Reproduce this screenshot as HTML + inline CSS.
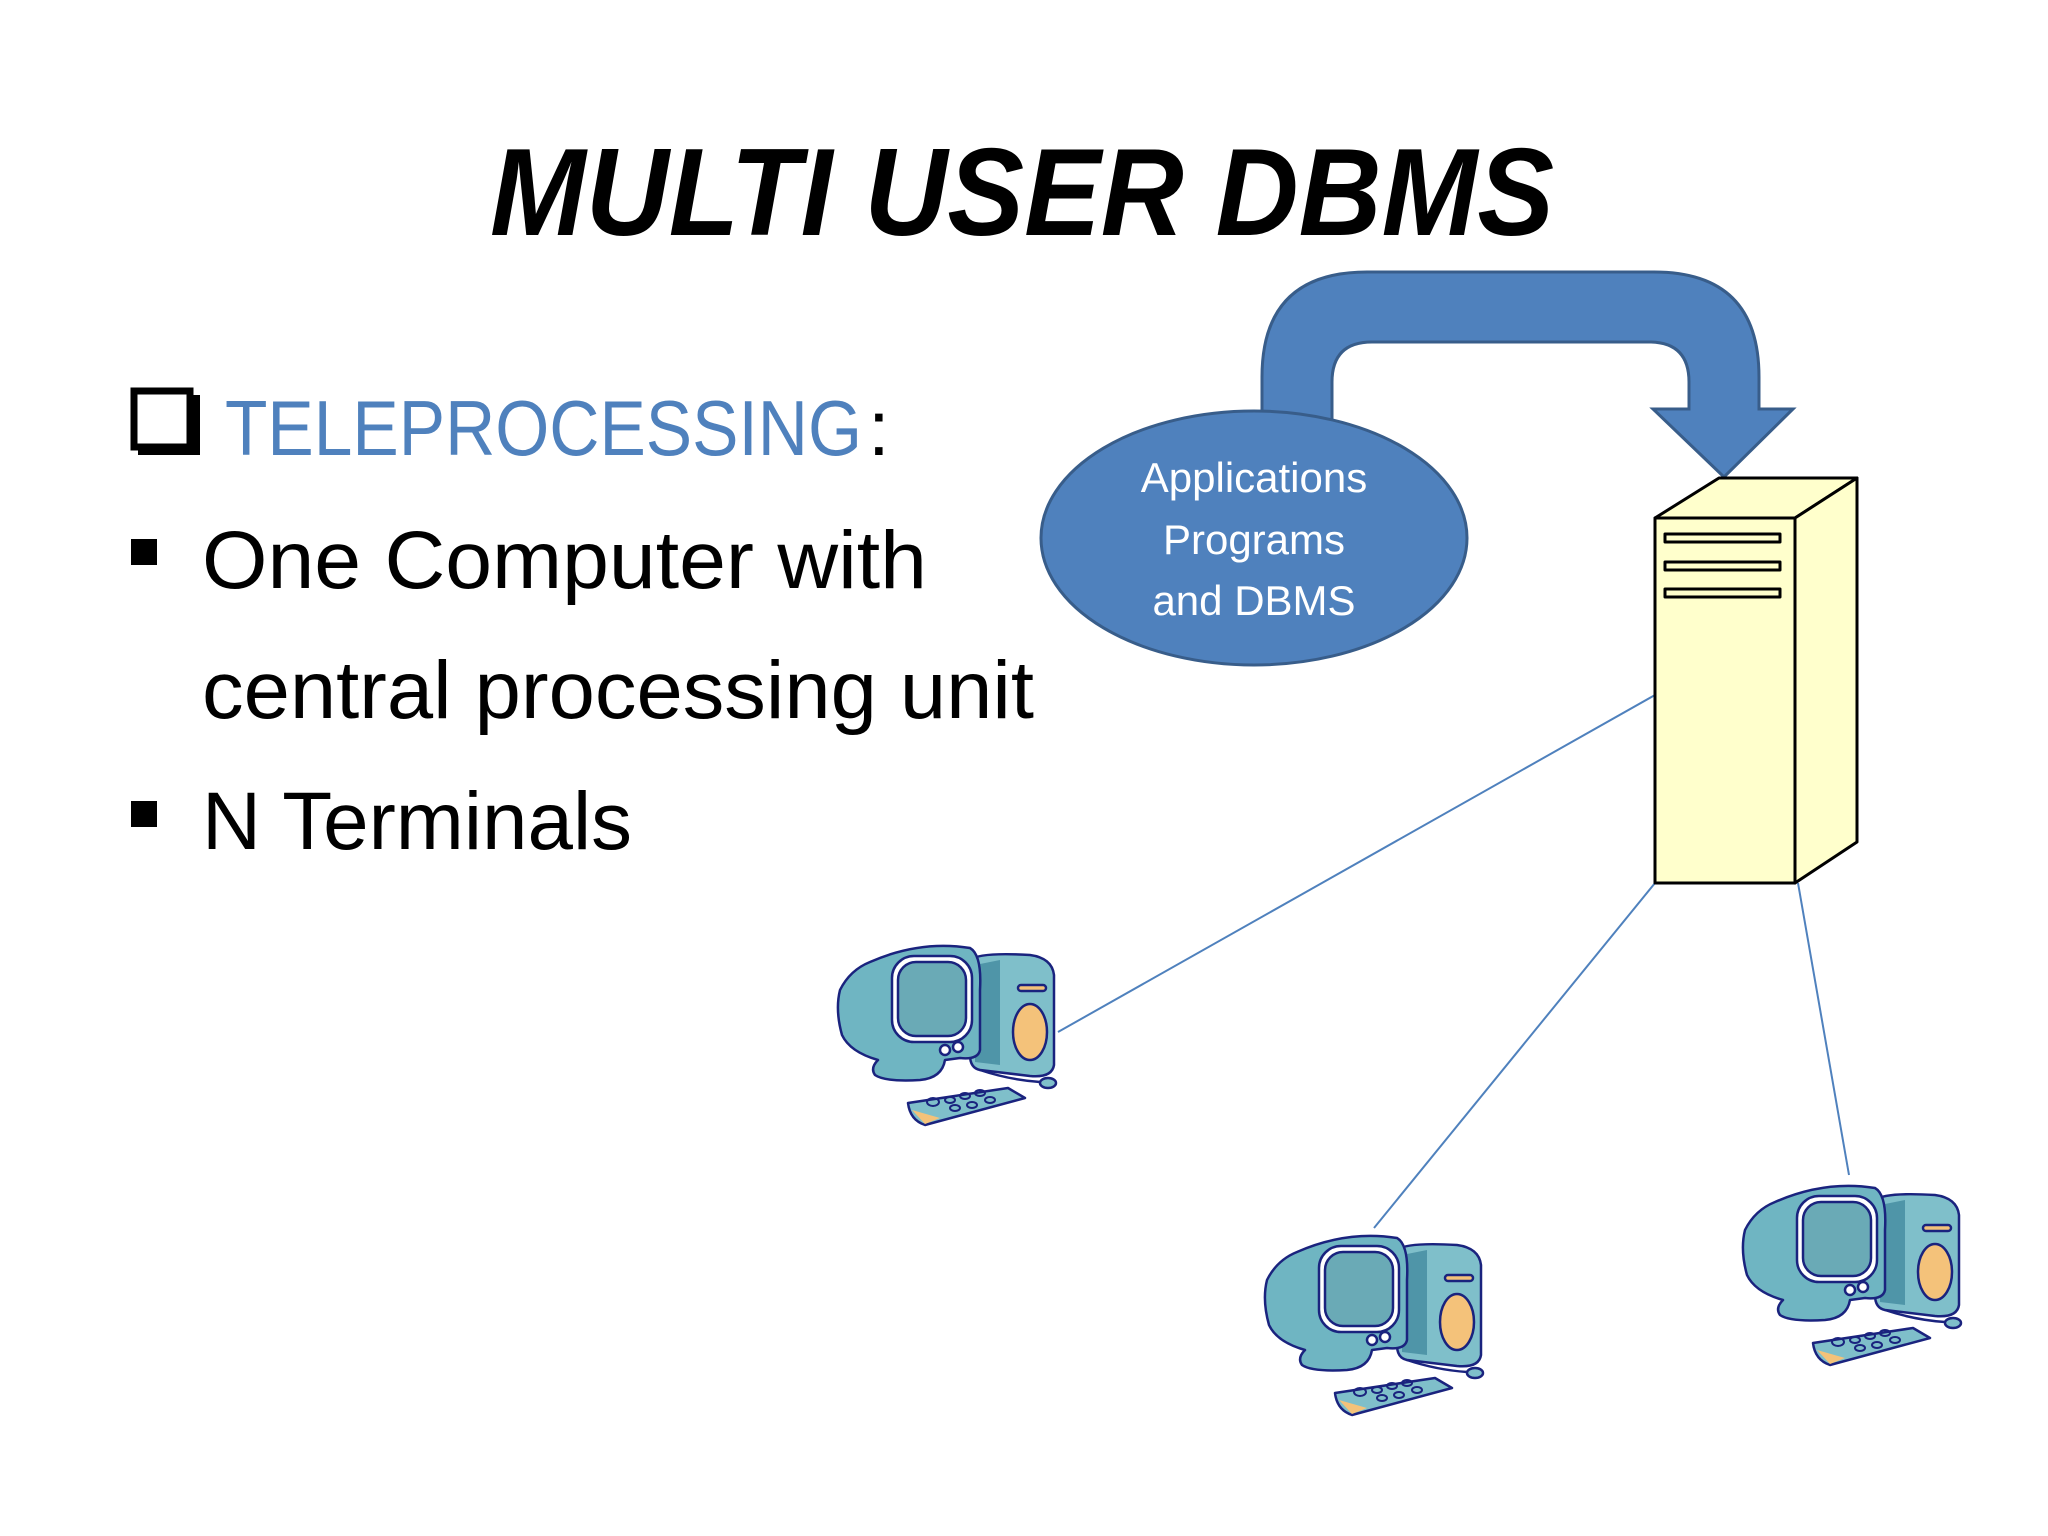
<!DOCTYPE html>
<html><head><meta charset="utf-8"><style>html,body{margin:0;padding:0;background:#fff}svg{display:block}</style></head>
<body>
<svg width="2048" height="1536" viewBox="0 0 2048 1536" xmlns="http://www.w3.org/2000/svg">
<defs>
<g id="pc" stroke="#1a237e" stroke-width="2.5" stroke-linejoin="round">
  <path d="M140,30 Q150,22 200,25 Q222,28 224,45 L224,135 Q222,148 200,146 L150,140 Q140,138 140,125 Z" fill="#7fbfca"/>
  <path d="M145,35 L170,30 L170,135 L145,132 Z" fill="#4f95a8" stroke="none"/>
  <ellipse cx="200" cy="102" rx="17" ry="28" fill="#f4c27a"/>
  <rect x="188" y="55" width="28" height="6" rx="3" fill="#f4c27a"/>
  <path d="M40,32 Q90,10 140,18 Q152,25 150,60 L150,120 Q148,130 130,128 L115,130 Q112,148 90,150 Q55,152 45,145 Q40,138 48,130 Q20,122 12,105 Q5,80 10,60 Q20,40 40,32 Z" fill="#6fb5c2"/>
  <rect x="62" y="26" width="80" height="86" rx="22" fill="#fff"/>
  <rect x="68" y="32" width="68" height="74" rx="18" fill="#6aaab6"/>
  <circle cx="115" cy="120" r="5" fill="#fff"/><circle cx="128" cy="117" r="5" fill="#fff"/>
  <path d="M78,173 L178,158 L195,168 L95,195 Q80,190 78,173 Z" fill="#7fbfca"/>
  <path d="M82,180 L110,188 L95,194 Z" fill="#f4c27a" stroke="none"/>
  <g fill="none" stroke-width="2"><ellipse cx="103" cy="172" rx="6" ry="4"/><ellipse cx="120" cy="170" rx="5" ry="3"/><ellipse cx="135" cy="166" rx="5" ry="3"/><ellipse cx="150" cy="163" rx="5" ry="3"/><ellipse cx="125" cy="178" rx="5" ry="3"/><ellipse cx="142" cy="175" rx="5" ry="3"/><ellipse cx="160" cy="170" rx="5" ry="3"/></g>
  <ellipse cx="218" cy="153" rx="8" ry="5" fill="#7fbfca"/>
  <path d="M150,140 Q180,150 210,152" fill="none"/>
</g>
</defs>
<text x="490" y="235" font-family="Liberation Sans, sans-serif" font-weight="bold" font-style="italic" font-size="124" textLength="1064" lengthAdjust="spacingAndGlyphs">MULTI USER DBMS</text>

<rect x="134" y="391" width="56" height="56" fill="#fff" stroke="#000" stroke-width="7"/>
<path d="M138,451 H196 V395" fill="none" stroke="#000" stroke-width="8"/>
<text x="225" y="455" font-family="Liberation Sans, sans-serif" font-size="78" fill="#4f81bd" textLength="637" lengthAdjust="spacingAndGlyphs">TELEPROCESSING</text>
<text x="868" y="455" font-family="Liberation Sans, sans-serif" font-size="78" fill="#000">:</text>
<rect x="131" y="539" width="26" height="26" fill="#000"/>
<rect x="131" y="801" width="26" height="26" fill="#000"/>
<g font-family="Liberation Sans, sans-serif" font-size="82" fill="#000">
<text x="202" y="588" textLength="725" lengthAdjust="spacingAndGlyphs">One Computer with</text>
<text x="202" y="718" textLength="832" lengthAdjust="spacingAndGlyphs">central processing unit</text>
<text x="202" y="849" textLength="430" lengthAdjust="spacingAndGlyphs">N Terminals</text>
</g>

<path d="M1262,430 V377 Q1262,272 1367,272 H1654 Q1759,272 1759,377 V409 H1793 L1724,477 L1653,409 H1689 V382 Q1689,342 1649,342 H1372 Q1332,342 1332,382 V430 Z" fill="#4f81bd" stroke="#385d8a" stroke-width="3"/>
<ellipse cx="1254" cy="538" rx="213" ry="127" fill="#4f81bd" stroke="#385d8a" stroke-width="3"/>
<g font-family="Liberation Sans, sans-serif" font-size="42" fill="#fff" text-anchor="middle">
<text x="1254" y="492">Applications</text>
<text x="1254" y="554">Programs</text>
<text x="1254" y="615">and DBMS</text>
</g>

<g stroke="#4f81bd" stroke-width="2" fill="none">
<line x1="1655" y1="695" x2="1058" y2="1032"/>
<line x1="1655" y1="883" x2="1374" y2="1228"/>
<line x1="1798" y1="883" x2="1849" y2="1175"/>
</g>

<g stroke="#000" stroke-width="3" fill="#ffffcc" stroke-linejoin="round">
<polygon points="1655,518 1719,478 1857,478 1795,518"/>
<polygon points="1795,518 1857,478 1857,842 1795,883"/>
<rect x="1655" y="518" width="140" height="365"/>
<rect x="1665" y="534" width="115" height="8"/>
<rect x="1665" y="562" width="115" height="8"/>
<rect x="1665" y="589" width="115" height="8"/>
</g>

<use href="#pc" transform="translate(830,930)"/>
<use href="#pc" transform="translate(1257,1220)"/>
<use href="#pc" transform="translate(1735,1170)"/>
</svg>
</body></html>
